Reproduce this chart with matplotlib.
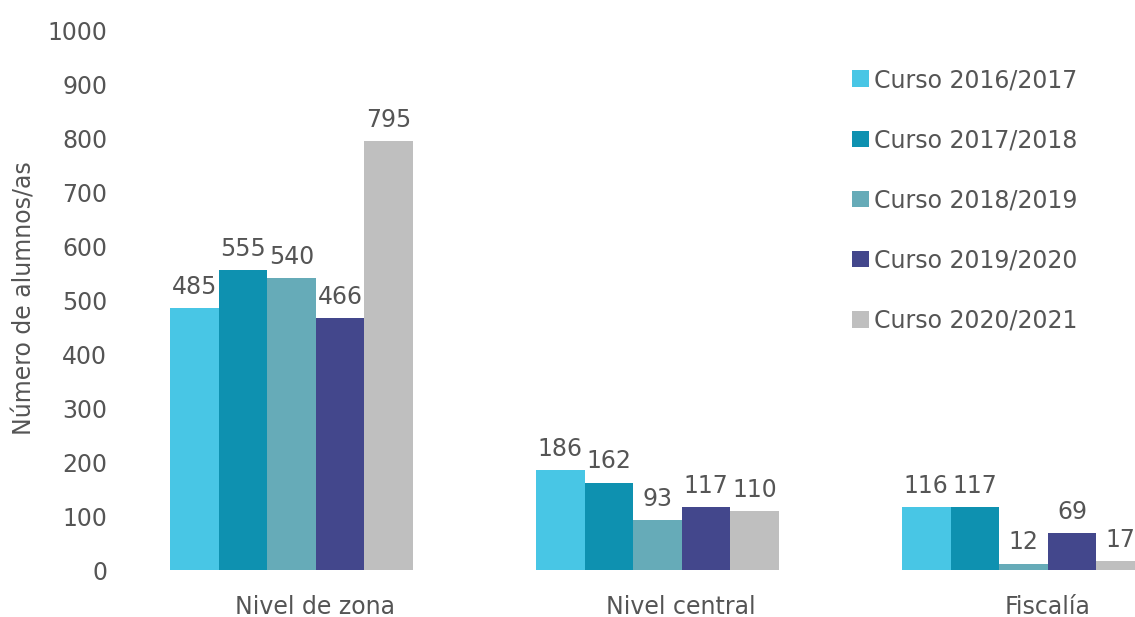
import matplotlib
matplotlib.use("Agg")
import matplotlib.pyplot as plt
import numpy as np

categories = ["Nivel de zona", "Nivel central", "Fiscalía"]
series_names = ["Curso 2016/2017", "Curso 2017/2018", "Curso 2018/2019",
                "Curso 2019/2020", "Curso 2020/2021"]
curso_2016 = [485, 186, 116]
curso_2017 = [555, 162, 117]
curso_2018 = [540, 93, 12]
curso_2019 = [466, 117, 69]
curso_2020 = [795, 110, 17]
series_values = [curso_2016, curso_2017, curso_2018, curso_2019, curso_2020]
colors = ["#48C6E5", "#0E91B0", "#66ABB8", "#43478C", "#BFBFBF"]
yticks = [0, 100, 200, 300, 400, 500, 600, 700, 800, 900, 1000]

plt.rcParams['font.family'] = ['DejaVu Sans']
text_color = "#555555"
fs = 17

W, H = 1135, 617
fig = plt.figure(figsize=(W / 100, H / 100), dpi=100)
left_px, right_px = 108.5, 108.5 + 1098
bottom_px, top_px = 570, 30
ax = fig.add_axes([left_px / W, (H - bottom_px) / H,
                   (right_px - left_px) / W, (bottom_px - top_px) / H])

x = np.arange(len(categories))
bw = 243 / 5 / 366
for i, (name, vals, c) in enumerate(zip(series_names, series_values, colors)):
    pos = x + (i - 2) * bw
    bars = ax.bar(pos, vals, width=bw, color=c, label=name, linewidth=0)
    ax.bar_label(bars, labels=[str(v) for v in vals], padding=6.5,
                 fontsize=fs, color=text_color)

ax.set_xlim(-0.5, 2.5)
ax.set_ylim(0, 1000)
ax.set_yticks(yticks)
ax.set_yticklabels([str(t) for t in yticks])
ax.set_xticks(x + 0.065)
ax.set_xticklabels(categories)
ax.tick_params(axis='both', length=0, labelsize=fs, labelcolor=text_color)
ax.tick_params(axis='y', pad=1)
ax.tick_params(axis='x', pad=18)
for s in ax.spines.values():
    s.set_visible(False)

fig.text(25 / W, 1 - 298 / H, "Número de alumnos/as", rotation=90,
         ha='center', va='center', fontsize=fs, color=text_color)

leg = ax.legend(loc='upper left', bbox_to_anchor=(852 / W, 1 - 68 / H),
                bbox_transform=fig.transFigure, frameon=False,
                fontsize=fs, handlelength=0.7, handleheight=0.7,
                handletextpad=0.25, labelspacing=1.53, borderpad=0,
                borderaxespad=0)
for t in leg.get_texts():
    t.set_color(text_color)

fig.savefig("out.png", dpi=100)
